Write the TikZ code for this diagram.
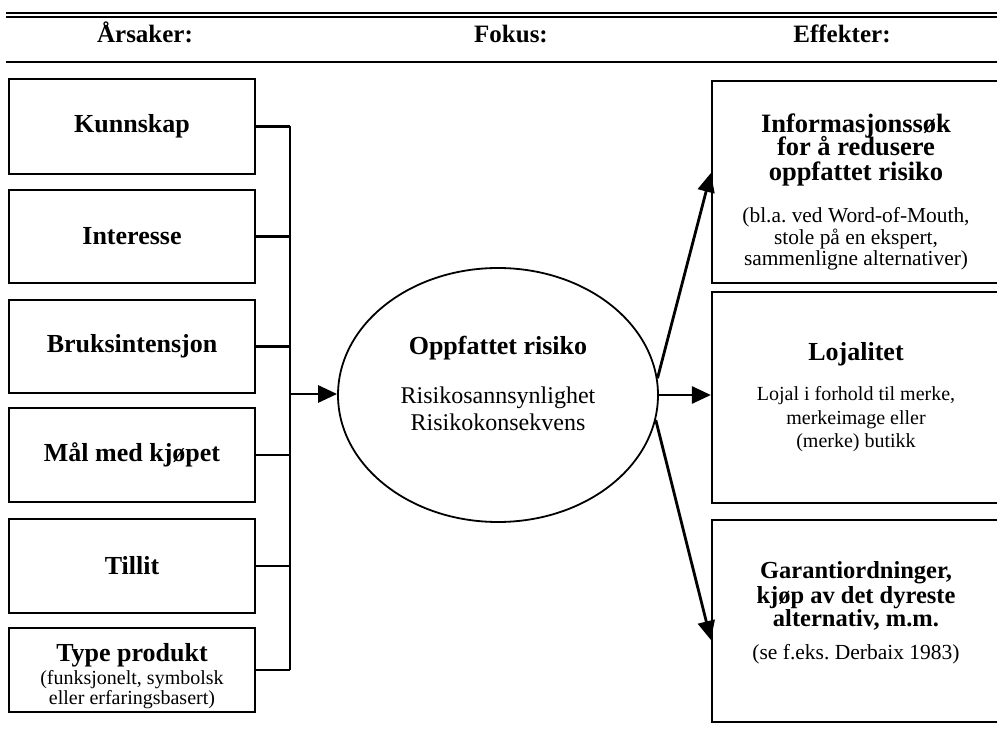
\documentclass[tikz,border=0pt]{standalone}
\usepackage{fontspec}
\setmainfont{Liberation Serif}
\usetikzlibrary{arrows.meta,calc,shapes.geometric}
\frenchspacing
\setlength{\lineskiplimit}{-100pt}

% font size with a fixed 24pt line pitch; extra pitch is given per line with \\[...]
\newcommand{\setsz}[1]{\fontsize{#1}{24}\selectfont}

\tikzset{
  x=1pt, y=-1pt,
  causebox/.style={draw, line width=2.2pt, minimum width=246pt, align=center,
    inner sep=0pt, font=\setsz{26}\bfseries},
  effectbox/.style={draw, line width=2.2pt, minimum width=288pt, align=center,
    inner sep=0pt, font=\setsz{25}\bfseries},
  heading/.style={anchor=base, font=\fontsize{25}{27}\selectfont\bfseries},
  bus/.style={line width=2.8pt},
  flow/.style={line width=2.8pt, -{Triangle[length=19pt,width=17pt]}},
  rule/.style={line width=2pt}
}

\begin{document}
\begin{tikzpicture}
\useasboundingbox (0,0) rectangle (997,735);
\clip (0,0) rectangle (997,735);

% header rules
\draw[rule] (6,13) -- (1000,13);
\draw[rule] (6,17.5) -- (1000,17.5);
\draw[rule, line width=2.4pt] (6,62) -- (1000,62);

% column headings
\node[heading] (hcause)  at (145,43) {Årsaker:};
\node[heading] (hfocus)  at (511,43) {Fokus:};
\node[heading] (heffect) at (842,43) {Effekter:};

% causes
\node[causebox, minimum height=95pt] (kunn)  at (132,126.5) {Kunnskap};
\node[causebox, minimum height=93pt] (inter) at (132,236.5) {Interesse};
\node[causebox, minimum height=93pt] (bruk)  at (132,346.5) {Bruksintensjon};
\node[causebox, minimum height=94pt] (maal)  at (132,455)   {Mål med kjøpet};
\node[causebox, minimum height=94pt] (till)  at (132,566)   {Tillit};
\node[causebox, minimum height=84pt, text height=73pt] (type) at (132,670)
  {Type produkt\\[-1pt]
   \setsz{20}\mdseries (funksjonelt, symbolsk\\[-4pt]
   \setsz{20}\mdseries eller erfaringsbasert)};

% collecting bus
\coordinate (busx) at (290,0);
\coordinate (busin) at (290,394);
\foreach \b in {kunn,inter,bruk,maal,till,type}
  \draw[bus] (\b.east) -- (\b.east -| busx);
\draw[bus] (kunn.east -| busx) -- (type.east -| busx);

% focus
\node[draw, ellipse, line width=1.8pt, minimum width=320pt, minimum height=254pt,
      inner sep=0pt, align=center, font=\setsz{26}\bfseries, text depth=23pt] (focus) at (498,395)
  {Oppfattet risiko\\[25pt]
   \setsz{24}\mdseries Risikosannsynlighet\\[3pt]
   \setsz{24}\mdseries Risikokonsekvens};

\draw[flow] (busin) -- (busin -| focus.west);

% effects
\node[effectbox, minimum height=202pt, text height=172pt] (info) at (856,182)
  {\setsz{26.5}Informasjonssøk\\[-0.5pt]
   \setsz{26.5}for å redusere\\[1pt]
   \setsz{26.5}oppfattet risiko\\[18pt]
   \setsz{21.4}\mdseries (bl.a. ved Word-of-Mouth,\\[-2pt]
   \setsz{21.4}\mdseries stole på en ekspert,\\[-3pt]
   \setsz{21.4}\mdseries sammenligne alternativer)};
\node[effectbox, minimum height=211pt] (loyal) at (856,397.5)
  {\setsz{26}Lojalitet\\[16pt]
   \setsz{20}\mdseries Lojal i forhold til merke,\\[0pt]
   \setsz{20}\mdseries merkeimage eller\\[-1pt]
   \setsz{20}\mdseries (merke) butikk};
\node[effectbox, minimum height=202pt, text depth=21pt] (garant) at (856,621)
  {\setsz{24.5}Garantiordninger,\\[1pt]
   \setsz{24.5}kjøp av det dyreste\\[-1pt]
   \setsz{24.5}alternativ, m.m.\\[9pt]
   \setsz{21.5}\mdseries (se f.eks. Derbaix 1983)};

\draw[flow] (focus.6) -- ($(info.west)+(0,-9)$);
\draw[flow] (focus.east) -- (focus.east -| loyal.west);
\draw[flow] (focus.-9) -- ($(garant.west)+(0,19)$);
\end{tikzpicture}
\end{document}
